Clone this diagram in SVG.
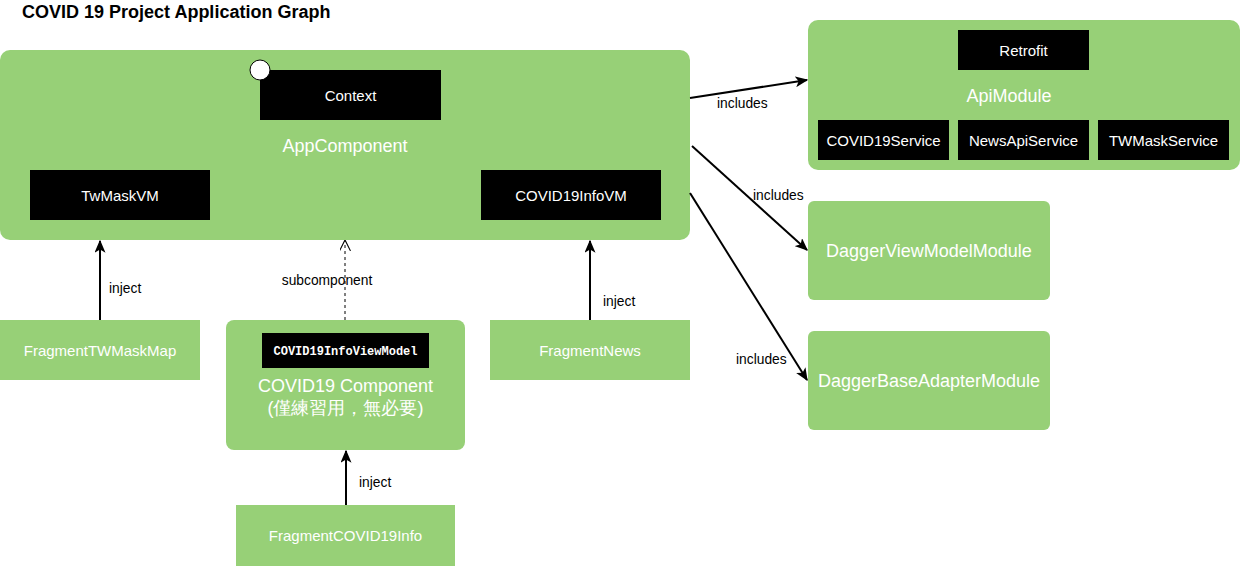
<svg xmlns="http://www.w3.org/2000/svg" width="1241" height="566" viewBox="0 0 1241 566">
<defs>
<style>
.g{fill:#97D077;stroke:none}
.b{fill:#000;stroke:none}
.t{font-family:"Liberation Sans",Arial,sans-serif;fill:#fff;text-anchor:middle}
.s14{font-size:15px}
.s17{font-size:18px}
.el{font-family:"Liberation Sans",Arial,sans-serif;font-size:13.8px;fill:#000}
.ln{stroke:#000;stroke-width:2;fill:none}
</style>
<marker id="ah" viewBox="0 0 10 10" refX="9" refY="5" markerWidth="13" markerHeight="11" orient="auto" markerUnits="userSpaceOnUse" preserveAspectRatio="none"><path d="M0,0 L10,5 L0,10 L2.5,5 Z" fill="#000"/></marker>
<marker id="ao" viewBox="0 0 10 10" refX="9" refY="5" markerWidth="11" markerHeight="11" orient="auto" markerUnits="userSpaceOnUse"><path d="M0,0 L10,5 L0,10" fill="none" stroke="#000" stroke-width="1"/></marker>
</defs>
<rect width="1241" height="566" fill="#fff"/>
<text x="22" y="18" font-family="'Liberation Sans',Arial,sans-serif" font-size="18" font-weight="bold" fill="#000">COVID 19 Project Application Graph</text>

<g id="AppComponent">
<rect class="g" x="0" y="50" width="690" height="190" rx="10"/>
<text class="t s17" x="345" y="152">AppComponent</text>
</g>
<g id="Context">
<rect class="b" x="260" y="70" width="181" height="50"/>
<text class="t s14" x="350.5" y="101">Context</text>
<circle cx="260" cy="70" r="10" fill="#fff" stroke="#000" stroke-width="1"/>
</g>
<g id="TwMaskVM">
<rect class="b" x="30" y="170" width="180" height="50"/>
<text class="t s14" x="120" y="201">TwMaskVM</text>
</g>
<g id="COVID19InfoVM">
<rect class="b" x="481" y="170" width="180" height="50"/>
<text class="t s14" x="571" y="201">COVID19InfoVM</text>
</g>

<g id="ApiModule">
<rect class="g" x="808" y="20" width="432" height="150" rx="10"/>
<text class="t s17" x="1009" y="102">ApiModule</text>
</g>
<g id="Retrofit">
<rect class="b" x="958" y="30" width="131" height="40"/>
<text class="t s14" x="1023.5" y="56">Retrofit</text>
</g>
<g id="COVID19Service">
<rect class="b" x="818" y="120" width="131" height="40"/>
<text class="t s14" x="883.5" y="146">COVID19Service</text>
</g>
<g id="NewsApiService">
<rect class="b" x="958" y="120" width="131" height="40"/>
<text class="t s14" x="1023.5" y="146">NewsApiService</text>
</g>
<g id="TWMaskService">
<rect class="b" x="1098" y="120" width="131" height="40"/>
<text class="t s14" x="1163.5" y="146">TWMaskService</text>
</g>

<g id="DaggerViewModelModule">
<rect class="g" x="808" y="201" width="242" height="99" rx="6"/>
<text class="t s17" x="929" y="257">DaggerViewModelModule</text>
</g>
<g id="DaggerBaseAdapterModule">
<rect class="g" x="808" y="331" width="242" height="99" rx="6"/>
<text class="t s17" x="929" y="387">DaggerBaseAdapterModule</text>
</g>

<g id="FragmentTWMaskMap">
<rect class="g" x="0" y="320" width="200" height="60"/>
<text class="t s14" x="100" y="356">FragmentTWMaskMap</text>
</g>
<g id="COVID19Component">
<rect class="g" x="226" y="320" width="239" height="130" rx="8"/>
<text class="t s17" x="345.5" y="392">COVID19 Component</text>
<text class="t s17" x="345.5" y="414" font-family="'Liberation Sans','Noto Sans CJK TC',sans-serif">(僅練習用，無必要)</text>
</g>
<g id="COVID19InfoViewModel">
<rect class="b" x="262" y="333" width="167" height="35"/>
<text x="345.5" y="355" font-family="'Liberation Mono','DejaVu Sans Mono',monospace" font-size="12" font-weight="bold" fill="#fff" text-anchor="middle">COVID19InfoViewModel</text>
</g>
<g id="FragmentNews">
<rect class="g" x="490" y="320" width="200" height="60"/>
<text class="t s14" x="590" y="356">FragmentNews</text>
</g>
<g id="FragmentCOVID19Info">
<rect class="g" x="236" y="505" width="219" height="61"/>
<text class="t s14" x="345.5" y="541">FragmentCOVID19Info</text>
</g>

<g id="connectors">
<line class="ln" x1="100" y1="320" x2="100" y2="241" marker-end="url(#ah)"/>
<text class="el" x="109" y="293">inject</text>
<line x1="345" y1="320" x2="345" y2="241" stroke="#000" stroke-width="1" stroke-dasharray="3,3" marker-end="url(#ao)"/>
<text class="el" x="327" y="285" text-anchor="middle">subcomponent</text>
<line class="ln" x1="590" y1="320" x2="590" y2="241" marker-end="url(#ah)"/>
<text class="el" x="603" y="306">inject</text>
<line class="ln" x1="346" y1="505" x2="346" y2="451" marker-end="url(#ah)"/>
<text class="el" x="359" y="487">inject</text>
<line class="ln" x1="690" y1="98" x2="807" y2="80" marker-end="url(#ah)"/>
<text class="el" x="717" y="108">includes</text>
<line class="ln" x1="692" y1="146" x2="807" y2="250" marker-end="url(#ah)"/>
<text class="el" x="753" y="200">includes</text>
<line class="ln" x1="690" y1="193" x2="807" y2="380" marker-end="url(#ah)"/>
<text class="el" x="736" y="364">includes</text>
</g>
</svg>
